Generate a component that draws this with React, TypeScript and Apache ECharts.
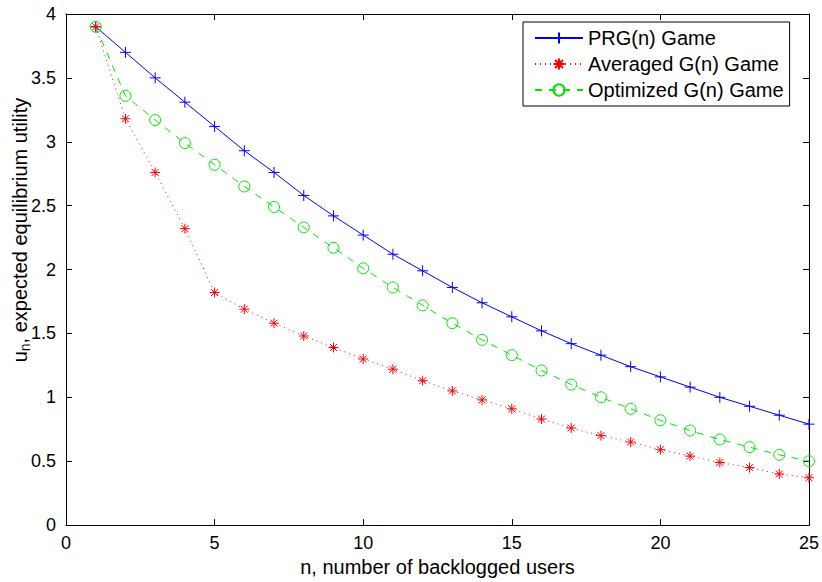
import React, { useEffect, useRef } from "react";
import * as echarts from "echarts";

const nValues = [1, 2, 3, 4, 5, 6, 7, 8, 9, 10, 11, 12, 13, 14, 15, 16, 17, 18, 19, 20, 21, 22, 23, 24, 25];
const prgGame = [3.9, 3.7, 3.5, 3.31, 3.12, 2.93, 2.76, 2.58, 2.42, 2.27, 2.12, 1.99, 1.86, 1.74, 1.63, 1.52, 1.42, 1.33, 1.24, 1.16, 1.08, 1.0, 0.93, 0.86, 0.79];
const averagedGame = [3.9, 3.18, 2.76, 2.32, 1.82, 1.69, 1.58, 1.48, 1.39, 1.3, 1.22, 1.13, 1.05, 0.98, 0.91, 0.83, 0.76, 0.7, 0.65, 0.59, 0.54, 0.49, 0.45, 0.4, 0.37];
const optimizedGame = [3.9, 3.36, 3.17, 2.99, 2.82, 2.65, 2.49, 2.33, 2.17, 2.01, 1.86, 1.72, 1.58, 1.45, 1.33, 1.21, 1.1, 1.0, 0.91, 0.82, 0.74, 0.67, 0.61, 0.55, 0.5];
const seriesNames = ["PRG(n) Game", "Averaged G(n) Game", "Optimized G(n) Game"];
const xTitle = "n, number of backlogged users";
const yTitleMain = "u";
const yTitleSub = "n";
const yTitleRest = ", expected equilibrium utility";

const FONT = "'Liberation Sans', Arial, Helvetica, sans-serif";
const FS = 20;
const TICK_FS = 18;
const SUB_FS = 14;

function measure(text: string, size: number): number {
  const c = document.createElement("canvas").getContext("2d");
  if (!c) return text.length * size * 0.5;
  c.font = `${size}px ${FONT}`;
  return c.measureText(text).width;
}

export default function App() {
  const ref = useRef<HTMLDivElement>(null);
  useEffect(() => {
    document.body.style.margin = "0";
    const chart = echarts.init(ref.current!, null, { renderer: "svg" });
    const pair = (ys: number[]) => nValues.map((n, i) => [n, ys[i]]);
    const axisCommon = {
      axisLine: { show: true, onZero: false, lineStyle: { color: "#000", width: 1 } },
      axisTick: { show: true, inside: true, length: 6, lineStyle: { color: "#000", width: 1 } },
      splitLine: { show: false },
    };
    const tickStyle = { color: "#000", fontSize: TICK_FS, fontFamily: FONT };

    const wMain = measure(yTitleMain, FS);
    const wSub = measure(yTitleSub, SUB_FS);
    const wRest = measure(yTitleRest, FS);
    const start = -(wMain + wSub + wRest) / 2;

    chart.setOption({
      animation: false,
      backgroundColor: "#fff",
      grid: { left: 66, right: 11, top: 14, bottom: 52, containLabel: false },
      xAxis: [
        {
          type: "value", min: 0, max: 25, interval: 5, position: "bottom",
          ...axisCommon,
          axisLabel: { ...tickStyle, margin: 9 },
          name: xTitle, nameLocation: "middle", nameGap: 25,
          nameTextStyle: { color: "#000", fontSize: FS, fontFamily: FONT },
        },
        {
          type: "value", min: 0, max: 25, interval: 5, position: "top",
          ...axisCommon, axisLabel: { show: false },
        },
      ],
      yAxis: [
        {
          type: "value", min: 0, max: 4, interval: 0.5, position: "left",
          ...axisCommon,
          axisLabel: { ...tickStyle, margin: 10 },
        },
        {
          type: "value", min: 0, max: 4, interval: 0.5, position: "right",
          ...axisCommon, axisLabel: { show: false },
        },
      ],
      graphic: [
        {
          type: "group",
          x: 20,
          y: 230,
          rotation: Math.PI / 2,
          children: [
            {
              type: "text", x: start, y: 0,
              style: { text: yTitleMain, font: `${FS}px ${FONT}`, fill: "#000", align: "left", verticalAlign: "middle" },
            },
            {
              type: "text", x: start + wMain, y: 5,
              style: { text: yTitleSub, font: `${SUB_FS}px ${FONT}`, fill: "#000", align: "left", verticalAlign: "middle" },
            },
            {
              type: "text", x: start + wMain + wSub, y: 0,
              style: { text: yTitleRest, font: `${FS}px ${FONT}`, fill: "#000", align: "left", verticalAlign: "middle" },
            },
          ],
        },
      ],
      legend: {
        orient: "vertical",
        left: 523,
        top: 22,
        data: seriesNames,
        backgroundColor: "#fff",
        borderColor: "#000",
        borderWidth: 1,
        padding: [6, 6, 6, 11],
        itemWidth: 48,
        itemHeight: 14,
        itemGap: 6,
        textStyle: { color: "#000", fontSize: FS, fontFamily: FONT, lineHeight: 20 },
      },
      series: [
        {
          name: seriesNames[0], type: "line", data: pair(prgGame),
          symbol: "path://M5,0L5,10M0,5L10,5", symbolSize: 11,
          lineStyle: { color: "#0000ff", width: 1, type: "solid" },
          itemStyle: { color: "#0000ff", borderColor: "#0000ff", borderWidth: 1 },
        },
        {
          name: seriesNames[1], type: "line", data: pair(averagedGame),
          symbol: "path://M5,0L5,10M0,5L10,5M1.5,1.5L8.5,8.5M1.5,8.5L8.5,1.5", symbolSize: 10,
          lineStyle: { color: "#ff0000", width: 1, type: [1, 4] },
          itemStyle: { color: "#ff0000", borderColor: "#ff0000", borderWidth: 1 },
        },
        {
          name: seriesNames[2], type: "line", data: pair(optimizedGame),
          symbol: "circle", symbolSize: 11,
          lineStyle: { color: "#00e600", width: 1, type: [7, 7] },
          itemStyle: { color: "rgba(0,0,0,0)", borderColor: "#00e600", borderWidth: 1 },
        },
      ],
    });
    return () => chart.dispose();
  }, []);
  return <div ref={ref} style={{ position: "absolute", left: 0, top: 0, width: 822, height: 582 }} />;
}
